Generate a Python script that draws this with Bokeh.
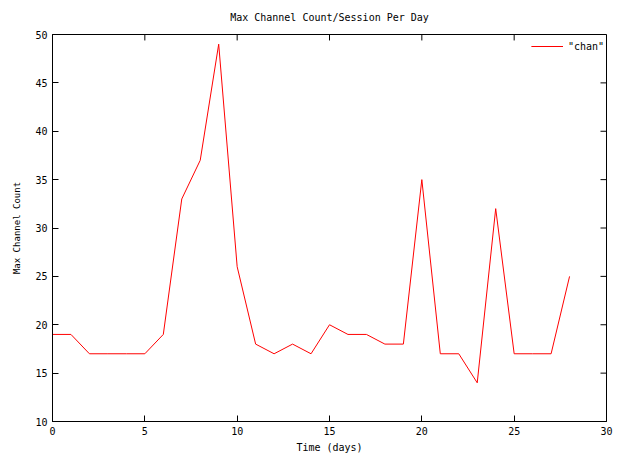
from bokeh.plotting import figure
from bokeh.models import FixedTicker, Range1d, Legend, LegendItem
from bokeh.embed import file_html
from bokeh.resources import INLINE

days = list(range(29))
chan = [19, 19, 17, 17, 17, 17, 19, 33, 37, 49, 26, 18, 17, 18, 17, 20, 19, 19,
        18, 18, 35, 17, 17, 14, 32, 17, 17, 17, 25]
x_ticks = [0, 5, 10, 15, 20, 25, 30]
y_ticks = [10, 15, 20, 25, 30, 35, 40, 45, 50]

MONO = "DejaVu Sans Mono"
X0, X1, Y0, Y1 = 0, 30, 10, 50

W, H = 613, 455
BL, BR, BT, BB = 52, 7, 34, 31

p = figure(width=W, height=H, output_backend="svg", toolbar_location=None,
           x_range=Range1d(X0, X1), y_range=Range1d(Y0, Y1),
           min_border_left=BL, min_border_right=BR, min_border_top=BT, min_border_bottom=BB)
p.title.text = "Max Channel Count/Session Per Day"
p.title.align = "center"
p.title.vertical_align = "top"
p.title.text_font = MONO
p.title.text_font_size = "10px"
p.title.text_font_style = "normal"
p.title.text_color = "black"
p.title.standoff = 20

r = p.line(days, chan, line_color="#ff0000", line_width=1)

p.xgrid.visible = False
p.ygrid.visible = False
p.outline_line_color = "black"
p.outline_line_width = 1

for ax, ticks in ((p.xaxis[0], x_ticks), (p.yaxis[0], y_ticks)):
    ax.ticker = FixedTicker(ticks=ticks)
    ax.major_tick_in = 6
    ax.major_tick_out = 0
    ax.minor_tick_in = 0
    ax.minor_tick_out = 0
    ax.axis_line_color = "black"
    ax.major_tick_line_color = "black"
    ax.major_label_text_font = MONO
    ax.major_label_text_font_size = "10px"
    ax.major_label_text_color = "black"
    ax.major_label_standoff = 5
    ax.axis_label_text_font = MONO
    ax.axis_label_text_font_style = "normal"
    ax.axis_label_text_color = "black"

p.xaxis[0].axis_label = "Time (days)"
p.xaxis[0].axis_label_text_font_size = "10px"
p.xaxis[0].axis_label_standoff = 4
p.yaxis[0].axis_label = "Max Channel Count"
p.yaxis[0].axis_label_text_font_size = "9px"
p.yaxis[0].axis_label_standoff = 10

# mirrored inward ticks on the top and right edges (gnuplot style)
frame_w = W - BL - BR
frame_h = H - BT - BB
tick_len_x = 6 * (X1 - X0) / frame_w
tick_len_y = 6 * (Y1 - Y0) / frame_h
p.segment(x0=x_ticks, y0=[Y1] * len(x_ticks), x1=x_ticks, y1=[Y1 - tick_len_y] * len(x_ticks),
          line_color="black", line_width=1)
p.segment(x0=[X1] * len(y_ticks), y0=y_ticks, x1=[X1 - tick_len_x] * len(y_ticks), y1=y_ticks,
          line_color="black", line_width=1)

legend = Legend(items=[LegendItem(label='"chan"', renderers=[r])], location="top_right")
legend.border_line_color = None
legend.background_fill_alpha = 0
legend.label_text_font = MONO
legend.label_text_font_size = "10px"
legend.label_text_color = "black"
legend.glyph_width = 32
legend.margin = 2
legend.padding = 4
p.add_layout(legend, "center")

open("out.html", "w").write(file_html(p, INLINE))
